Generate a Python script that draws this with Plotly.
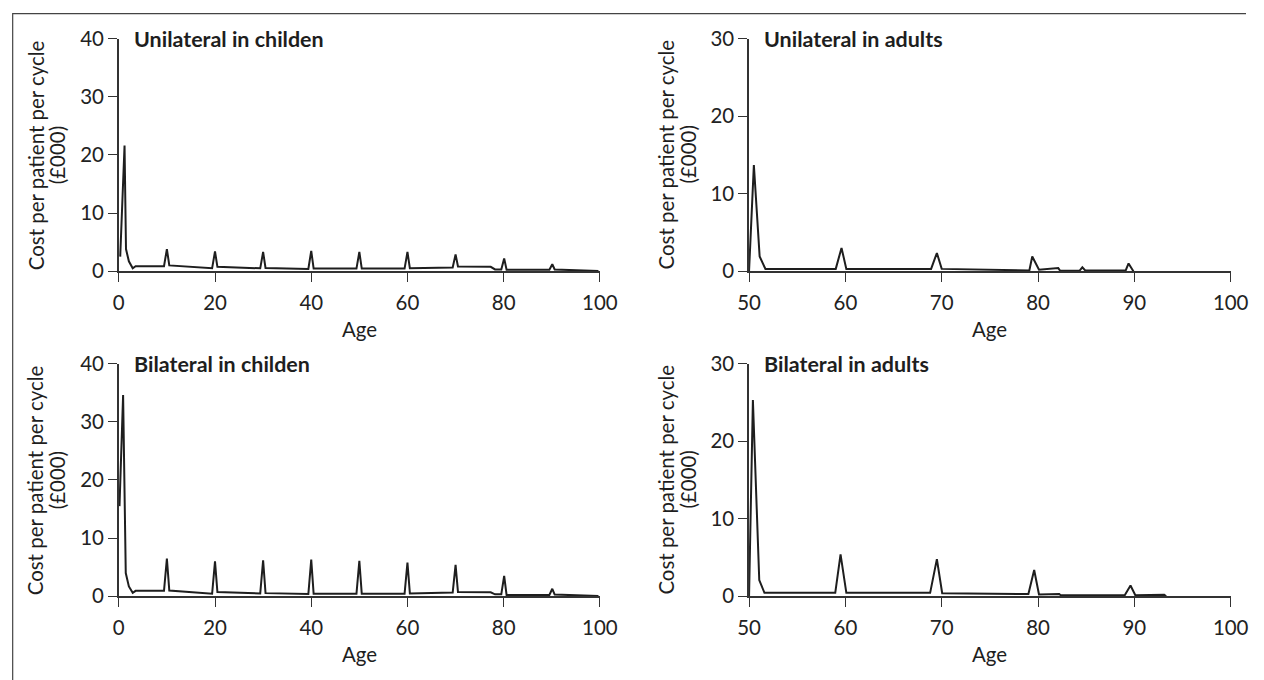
import plotly.graph_objects as go

W, H = 1264, 680

# ---- data (cost per patient per cycle, £000) ----
uni_child_age = [0.3, 1.2, 1.5, 2.1, 2.9, 3.5, 9.4, 10, 10.5, 19.4, 20, 20.5, 29.4, 30, 30.5,
                 39.4, 40, 40.5, 49.4, 50, 50.5, 59.4, 60, 60.5, 69.4, 70, 70.5, 77.3, 78.2,
                 79.5, 80.1, 80.6, 89.5, 90.1, 90.6, 99.7]
uni_child_cost = [2.5, 21.6, 3.8, 1.7, 0.5, 0.85, 0.85, 3.8, 1.0, 0.5, 3.4, 0.75, 0.5, 3.3, 0.55,
                  0.4, 3.5, 0.45, 0.45, 3.3, 0.45, 0.45, 3.3, 0.5, 0.65, 2.9, 0.8, 0.75, 0.3,
                  0.3, 2.2, 0.25, 0.25, 1.2, 0.3, 0.05]

bi_child_age = [0.15, 0.9, 1.45, 2.1, 2.9, 3.5, 9.4, 10, 10.5, 19.4, 20, 20.5, 29.4, 30, 30.5,
                39.4, 40, 40.5, 49.4, 50, 50.5, 59.4, 60, 60.5, 69.4, 70, 70.5, 77.3, 78.2,
                79.5, 80.1, 80.6, 89.5, 90.1, 90.6, 99.7]
bi_child_cost = [15.5, 34.6, 4.0, 1.7, 0.6, 0.95, 0.95, 6.5, 1.0, 0.45, 6.0, 0.75, 0.5, 6.2, 0.55,
                 0.4, 6.3, 0.45, 0.45, 6.1, 0.45, 0.45, 5.8, 0.5, 0.65, 5.4, 0.75, 0.7, 0.35,
                 0.35, 3.5, 0.25, 0.25, 1.3, 0.3, 0.05]

uni_adult_age = [50, 50.5, 51.1, 51.7, 59.0, 59.6, 60.1, 68.9, 69.5, 70.0, 79.1, 79.4, 80.1,
                 82.1, 82.3, 84.3, 84.6, 84.9, 89.1, 89.4, 89.9]
uni_adult_cost = [0, 13.7, 1.9, 0.3, 0.3, 3.0, 0.3, 0.3, 2.35, 0.3, 0.1, 1.9, 0.2,
                  0.4, 0.05, 0.05, 0.5, 0.1, 0.1, 1.0, 0.0]

bi_adult_age = [50, 50.4, 51.06, 51.6, 58.95, 59.5, 60.1, 68.8, 69.5, 70.05, 79.0, 79.6, 80.1,
                82.2, 82.35, 89.0, 89.6, 90.1, 93.1, 93.3]
bi_adult_cost = [0, 25.3, 2.1, 0.45, 0.45, 5.4, 0.45, 0.45, 4.8, 0.4, 0.3, 3.4, 0.25,
                 0.3, 0.15, 0.15, 1.4, 0.15, 0.2, 0.0]

titles = ["Unilateral in childen", "Unilateral in adults", "Bilateral in childen", "Bilateral in adults"]
child_ticks = [0, 20, 40, 60, 80, 100]
adult_ticks = [50, 60, 70, 80, 90, 100]
child_yticks = [0, 10, 20, 30, 40]
adult_yticks = [0, 10, 20, 30]
y_title_1 = "Cost per patient per cycle"
y_title_2 = "(£000)"
x_title = "Age"

FONT = "Lato, 'Open Sans', sans-serif"
INK = "#1e1e1e"
AX = "#333333"

# the photographed page appears slightly inset/scaled; map target picture pixels to page pixels
SX, AXOFF = 0.9774, 11.4
SY, AYOFF = 0.9673, 11.8


def px(X):
    return (X - AXOFF) / SX


def py(Y):
    return (Y - AYOFF) / SY


FS = 20 / SX
FS_T = 21 / SX

# target picture geometry of the four panels: (left, right, top, bottom)
panels = [
    (118.3, 600.0, 37.4, 270.7),
    (749.3, 1231.5, 37.4, 270.7),
    (118.3, 600.0, 363.3, 596.7),
    (749.3, 1231.5, 363.3, 596.7),
]
series = [
    (uni_child_age, uni_child_cost, [0, 100], child_ticks, [0, 40], child_yticks),
    (uni_adult_age, uni_adult_cost, [50, 100], adult_ticks, [0, 30], adult_yticks),
    (bi_child_age, bi_child_cost, [0, 100], child_ticks, [0, 40], child_yticks),
    (bi_adult_age, bi_adult_cost, [50, 100], adult_ticks, [0, 30], adult_yticks),
]

fig = go.Figure()
layout = dict(
    width=W, height=H,
    margin=dict(l=0, r=0, t=0, b=0),
    paper_bgcolor="white", plot_bgcolor="white",
    showlegend=False,
    font=dict(family=FONT, size=FS, color=INK),
    annotations=[], shapes=[],
)

for i, ((l, r, t, b), (xs, ys, xr, xt, yr, yt)) in enumerate(zip(panels, series)):
    n = "" if i == 0 else str(i + 1)
    fig.add_trace(go.Scatter(x=xs, y=ys, mode="lines", xaxis="x" + n, yaxis="y" + n,
                             line=dict(color=INK, width=2), hoverinfo="x+y"))
    common = dict(showline=True, linecolor=AX, linewidth=1.6, ticks="outside", ticklen=9,
                  tickwidth=1.4, tickcolor=AX, showgrid=False, zeroline=False,
                  tickfont=dict(family=FONT, size=FS, color="#222222"))
    layout["xaxis" + n] = dict(domain=[px(l) / W, px(r) / W], range=xr, tickvals=xt,
                               anchor="y" + n, ticklabelstandoff=3, **common)
    layout["yaxis" + n] = dict(domain=[1 - py(b) / H, 1 - py(t) / H], range=yr, tickvals=yt,
                               anchor="x" + n, **common)
    layout["annotations"].append(dict(
        text="<b>" + titles[i] + "</b>", xref="paper", yref="paper",
        x=px(l + 13) / W, y=1 - py(t) / H, xanchor="left", yanchor="middle",
        showarrow=False, font=dict(family=FONT, size=FS_T, color=INK)))
    layout["annotations"].append(dict(
        text=x_title, xref="paper", yref="paper",
        x=px((l + r) / 2) / W, y=1 - py(b + 57.5) / H, xanchor="center", yanchor="middle",
        showarrow=False, font=dict(family=FONT, size=FS, color=INK)))
    for txt, off in ((y_title_1, 83.5), (y_title_2, 61.5)):
        layout["annotations"].append(dict(
            text=txt, xref="paper", yref="paper", textangle=-90,
            x=px(l - off) / W, y=1 - py((t + b) / 2) / H, xanchor="center", yanchor="middle",
            showarrow=False, font=dict(family=FONT, size=FS, color=INK)))

# outer frame: left and top edges (the right edge would fall onto the last tick label)
fx0 = 0.7 / W
fy0 = 1 - 0.7 / H
layout["shapes"].append(dict(type="path", xref="paper", yref="paper",
                             path=f"M {fx0},-0.1 L {fx0},{fy0} L 1,{fy0}",
                             line=dict(color="#444444", width=1.2)))

fig.update_layout(**layout)
fig.write_html("out.html", post_script="document.body.style.margin='0';")
